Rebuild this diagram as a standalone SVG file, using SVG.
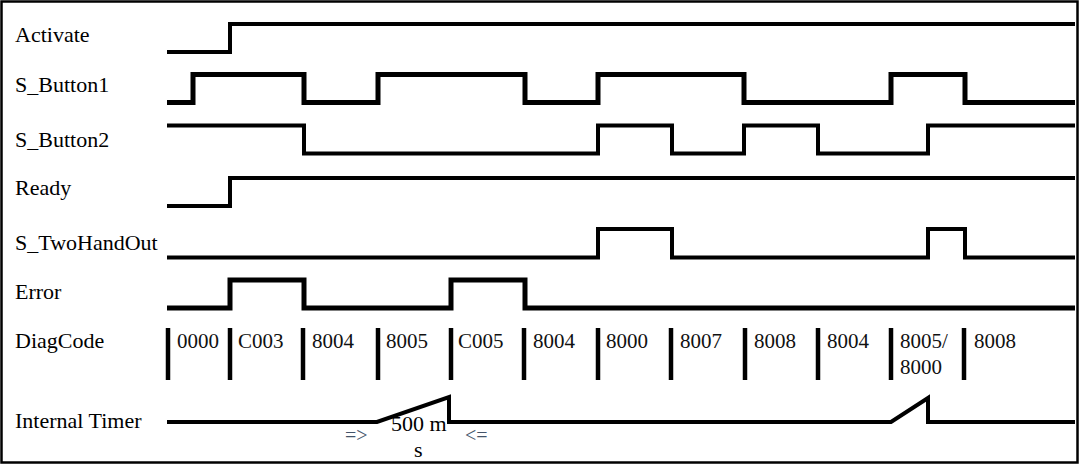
<svg xmlns="http://www.w3.org/2000/svg" width="1080" height="465" viewBox="0 0 1080 465">
<style>
.lbl{font-family:"Liberation Serif","Times New Roman",serif;font-size:22px;fill:#000}
.tm{font-family:"Liberation Serif","Times New Roman",serif;font-size:22px;fill:#000}
.code{font-family:"Liberation Serif","Times New Roman",serif;font-size:21px;fill:#111}
.arr{font-family:"Liberation Serif","Times New Roman",serif;font-size:20px;fill:#44546a}
.sig{fill:none;stroke:#000;stroke-width:4;stroke-linejoin:miter;stroke-linecap:butt}
.thick{stroke-width:5}
.bar{stroke:#000;stroke-width:4.5}
</style>
<rect x="1.5" y="1.5" width="1076" height="461" fill="#fff" stroke="#000" stroke-width="2.5"/>
<g id="activate">
<text class="lbl" x="15" y="42">Activate</text>
<path class="sig" d="M167,52 H230 V24 H1075"/>
</g>
<g id="s_button1">
<text class="lbl" x="15" y="92">S_Button1</text>
<path class="sig thick" d="M167,102.5 H193 V74.5 H304 V102.5 H378 V74.5 H525 V102.5 H598 V74.5 H744 V102.5 H891 V74.5 H965 V102.5 H1075"/>
</g>
<g id="s_button2">
<text class="lbl" x="15" y="147">S_Button2</text>
<path class="sig" d="M167,125.5 H304 V153.5 H598 V125.5 H672 V153.5 H744 V125.5 H818 V153.5 H928 V125.5 H1075"/>
</g>
<g id="ready">
<text class="lbl" x="15" y="195">Ready</text>
<path class="sig" d="M167,206 H230 V178 H1075"/>
</g>
<g id="s_twohandout">
<text class="lbl" x="15" y="250">S_TwoHandOut</text>
<path class="sig" d="M167,257.5 H598 V229 H672 V257.5 H928 V229 H965 V257.5 H1075"/>
</g>
<g id="error">
<text class="lbl" x="15" y="299">Error</text>
<path class="sig thick" d="M167,308 H230 V280 H304 V308 H451 V280 H525 V308 H1075"/>
</g>
<g id="diagcode">
<text class="lbl" x="15" y="348">DiagCode</text>
<g class="bar">
<line x1="168" y1="328" x2="168" y2="380"/>
<line x1="230" y1="328" x2="230" y2="380"/>
<line x1="303" y1="328" x2="303" y2="380"/>
<line x1="378" y1="328" x2="378" y2="380"/>
<line x1="451" y1="328" x2="451" y2="380"/>
<line x1="524" y1="328" x2="524" y2="380"/>
<line x1="598" y1="328" x2="598" y2="380"/>
<line x1="671" y1="328" x2="671" y2="380"/>
<line x1="745" y1="328" x2="745" y2="380"/>
<line x1="818" y1="328" x2="818" y2="380"/>
<line x1="891" y1="328" x2="891" y2="380"/>
<line x1="964" y1="328" x2="964" y2="380"/>
</g>
<text class="code" x="177" y="348">0000</text>
<text class="code" x="238" y="348">C003</text>
<text class="code" x="312" y="348">8004</text>
<text class="code" x="386" y="348">8005</text>
<text class="code" x="458" y="348">C005</text>
<text class="code" x="533" y="348">8004</text>
<text class="code" x="606" y="348">8000</text>
<text class="code" x="680" y="348">8007</text>
<text class="code" x="754" y="348">8008</text>
<text class="code" x="827" y="348">8004</text>
<text class="code" x="900" y="348">8005/</text>
<text class="code" x="900" y="374">8000</text>
<text class="code" x="974" y="348">8008</text>
</g>
<g id="internal_timer">
<text class="lbl" x="15" y="428">Internal Timer</text>
<path class="sig" d="M167,422 H377 L449,397 V422 H891 L928,398 V422 H1075"/>
<text class="tm" x="391" y="431">500 m</text>
<text class="tm" x="414" y="457">s</text>
<text class="arr" x="345" y="442">=&gt;</text>
<text class="arr" x="465" y="442">&lt;=</text>
</g>
</svg>
